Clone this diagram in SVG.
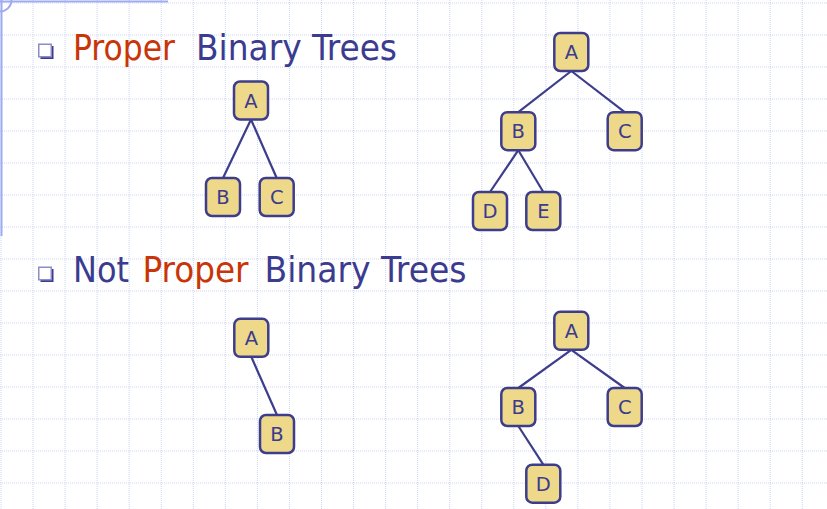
<svg xmlns="http://www.w3.org/2000/svg" width="827" height="509" viewBox="0 0 827 509">
  <style>
    .grid line { stroke: #cdd5f3; stroke-width: 1; stroke-dasharray: 1 1; }
    .frame { stroke: #9eabf2; stroke-width: 2; fill: none; }
    .title { font-family: 'DejaVu Sans Condensed', 'DejaVu Sans', sans-serif; font-size: 36px; }
    .blue { fill: #3b3b8f; }
    .red { fill: #c83508; }
    .node rect { fill: #eed889; stroke: #3d3d8c; stroke-width: 2.5; }
    .node text { font-family: 'DejaVu Sans', sans-serif; font-size: 19.5px; fill: #3b3b8f; text-anchor: middle; }
    .edges line { stroke: #3d3d8c; stroke-width: 2.2; }
  </style>
  <defs>
    <g id="bullet">
      <rect x="2.5" y="2.5" width="13" height="13" fill="#3b3b8f"/>
      <rect x="0.75" y="0.75" width="12.5" height="12.5" fill="#ffffff" stroke="#8c8cc8" stroke-width="1.5"/>
    </g>
  </defs>

  <rect width="827" height="509" fill="#ffffff"/>

  <g class="grid">
    <line x1="1" y1="0" x2="1" y2="509"/>
    <line x1="33.05" y1="0" x2="33.05" y2="509"/>
    <line x1="65.1" y1="0" x2="65.1" y2="509"/>
    <line x1="97.15" y1="0" x2="97.15" y2="509"/>
    <line x1="129.2" y1="0" x2="129.2" y2="509"/>
    <line x1="161.25" y1="0" x2="161.25" y2="509"/>
    <line x1="193.3" y1="0" x2="193.3" y2="509"/>
    <line x1="225.35" y1="0" x2="225.35" y2="509"/>
    <line x1="257.4" y1="0" x2="257.4" y2="509"/>
    <line x1="289.45" y1="0" x2="289.45" y2="509"/>
    <line x1="321.5" y1="0" x2="321.5" y2="509"/>
    <line x1="353.55" y1="0" x2="353.55" y2="509"/>
    <line x1="385.6" y1="0" x2="385.6" y2="509"/>
    <line x1="417.65" y1="0" x2="417.65" y2="509"/>
    <line x1="449.7" y1="0" x2="449.7" y2="509"/>
    <line x1="481.75" y1="0" x2="481.75" y2="509"/>
    <line x1="513.8" y1="0" x2="513.8" y2="509"/>
    <line x1="545.85" y1="0" x2="545.85" y2="509"/>
    <line x1="577.9" y1="0" x2="577.9" y2="509"/>
    <line x1="609.95" y1="0" x2="609.95" y2="509"/>
    <line x1="642" y1="0" x2="642" y2="509"/>
    <line x1="674.05" y1="0" x2="674.05" y2="509"/>
    <line x1="706.1" y1="0" x2="706.1" y2="509"/>
    <line x1="738.15" y1="0" x2="738.15" y2="509"/>
    <line x1="770.2" y1="0" x2="770.2" y2="509"/>
    <line x1="802.25" y1="0" x2="802.25" y2="509"/>
    <line x1="0" y1="3" x2="827" y2="3"/>
    <line x1="0" y1="35" x2="827" y2="35"/>
    <line x1="0" y1="67" x2="827" y2="67"/>
    <line x1="0" y1="99" x2="827" y2="99"/>
    <line x1="0" y1="131" x2="827" y2="131"/>
    <line x1="0" y1="163" x2="827" y2="163"/>
    <line x1="0" y1="195" x2="827" y2="195"/>
    <line x1="0" y1="227" x2="827" y2="227"/>
    <line x1="0" y1="259" x2="827" y2="259"/>
    <line x1="0" y1="291" x2="827" y2="291"/>
    <line x1="0" y1="323" x2="827" y2="323"/>
    <line x1="0" y1="355" x2="827" y2="355"/>
    <line x1="0" y1="387" x2="827" y2="387"/>
    <line x1="0" y1="419" x2="827" y2="419"/>
    <line x1="0" y1="451" x2="827" y2="451"/>
    <line x1="0" y1="483" x2="827" y2="483"/>
  </g>

  <g id="frame">
    <line class="frame" x1="0" y1="1.5" x2="168" y2="1.5"/>
    <line class="frame" x1="1.5" y1="0" x2="1.5" y2="236"/>
    <path class="frame" d="M0,11.5 A11.5,11.5 0 0 0 11.5,0"/>
  </g>

  <g id="heading1">
    <use href="#bullet" x="38" y="43.5"/>
    <text class="title red" x="73" y="59.5" textLength="102" lengthAdjust="spacingAndGlyphs">Proper</text>
    <text class="title blue" x="196" y="59.5" textLength="201" lengthAdjust="spacingAndGlyphs">Binary Trees</text>
  </g>

  <g id="heading2">
    <use href="#bullet" x="38" y="266.5"/>
    <text class="title blue" x="73" y="282" textLength="56" lengthAdjust="spacingAndGlyphs">Not</text>
    <text class="title red" x="142.5" y="282" textLength="106" lengthAdjust="spacingAndGlyphs">Proper</text>
    <text class="title blue" x="264.5" y="282" textLength="202" lengthAdjust="spacingAndGlyphs">Binary Trees</text>
  </g>

  <g class="edges" id="connectors">
    <line x1="251" y1="119.5" x2="223" y2="178"/>
    <line x1="251" y1="119.5" x2="276.7" y2="178"/>
    <line x1="571.3" y1="71" x2="518.3" y2="112.2"/>
    <line x1="571.3" y1="71" x2="624.7" y2="112.2"/>
    <line x1="518.3" y1="150.2" x2="490" y2="192"/>
    <line x1="518.3" y1="150.2" x2="543.3" y2="192"/>
    <line x1="251.3" y1="356.8" x2="277" y2="415"/>
    <line x1="571.3" y1="349.8" x2="518.3" y2="388"/>
    <line x1="571.3" y1="349.8" x2="624.7" y2="388"/>
    <line x1="518.3" y1="426" x2="543.3" y2="464.7"/>
  </g>

  <g id="t1-A" class="node"><rect x="234" y="81.5" width="34" height="38" rx="6"/><text x="251" y="107.5">A</text></g>
  <g id="t1-B" class="node"><rect x="206" y="178" width="34" height="38" rx="6"/><text x="223" y="204">B</text></g>
  <g id="t1-C" class="node"><rect x="259.7" y="178" width="34" height="38" rx="6"/><text x="276.7" y="204">C</text></g>

  <g id="t2-A" class="node"><rect x="554.3" y="33" width="34" height="38" rx="6"/><text x="571.3" y="59">A</text></g>
  <g id="t2-B" class="node"><rect x="501.3" y="112.2" width="34" height="38" rx="6"/><text x="518.3" y="138.2">B</text></g>
  <g id="t2-C" class="node"><rect x="607.7" y="112.2" width="34" height="38" rx="6"/><text x="624.7" y="138.2">C</text></g>
  <g id="t2-D" class="node"><rect x="473" y="192" width="34" height="38" rx="6"/><text x="490" y="218">D</text></g>
  <g id="t2-E" class="node"><rect x="526.3" y="192" width="34" height="38" rx="6"/><text x="543.3" y="218">E</text></g>

  <g id="t3-A" class="node"><rect x="234.3" y="318.8" width="34" height="38" rx="6"/><text x="251.3" y="344.8">A</text></g>
  <g id="t3-B" class="node"><rect x="260" y="415" width="34" height="38" rx="6"/><text x="277" y="441">B</text></g>

  <g id="t4-A" class="node"><rect x="554.3" y="311.8" width="34" height="38" rx="6"/><text x="571.3" y="337.8">A</text></g>
  <g id="t4-B" class="node"><rect x="501.3" y="388" width="34" height="38" rx="6"/><text x="518.3" y="414">B</text></g>
  <g id="t4-C" class="node"><rect x="607.7" y="388" width="34" height="38" rx="6"/><text x="624.7" y="414">C</text></g>
  <g id="t4-D" class="node"><rect x="526.3" y="464.7" width="34" height="38" rx="6"/><text x="543.3" y="490.7">D</text></g>
</svg>
